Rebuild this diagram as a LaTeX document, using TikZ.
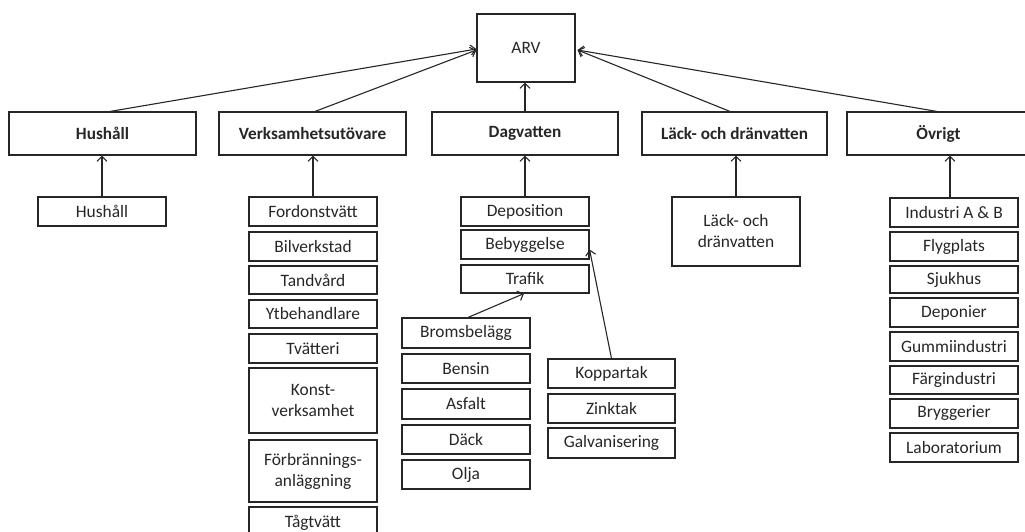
\documentclass[tikz,border=0pt]{standalone}
\usepackage{fontspec}
\setmainfont{Carlito}
\usetikzlibrary{arrows.meta}
\begin{document}
\begin{tikzpicture}[x=1pt,y=-1pt,
  box/.style={draw=black!85, line width=1.1pt, inner sep=0pt, align=center,
    font=\fontsize{17.4}{21}\selectfont, text=black!85},
  head/.style={box, minimum height=43, font=\fontsize{17.2}{21}\selectfont\bfseries},
  leaf/.style={box, minimum width=128},
  conn/.style={draw=black!85, line width=1.1pt, -{Straight Barb[length=5pt,width=10pt,line width=1.1pt]}}
]
\useasboundingbox (0,0) rectangle (1025,531);
% top
\node[box, minimum width=98, minimum height=68] (arv) at (526,48) {ARV};
% level 1
\node[head, minimum width=187] (h) at (102.5,133.5) {Hushåll};
\node[head, minimum width=187] (v) at (312.5,133.5) {Verksamhetsutövare};
\node[head, minimum width=186] (d) at (525,133.5) {Dagvatten};
\node[head, minimum width=185] (l) at (734.5,133.5) {Läck- och dränvatten};
\node[head, minimum width=183] (o) at (938.5,133.5) {Övrigt};
% Hushåll
\node[leaf, minimum height=29] (h1) at (102,211.5) {Hushåll};
% Verksamhetsutövare
\node[leaf, minimum height=29] (v1) at (313,211.5) {Fordonstvätt};
\node[leaf, minimum height=29] (v2) at (313,246.5) {Bilverkstad};
\node[leaf, minimum height=28] (v3) at (313,280) {Tandvård};
\node[leaf, minimum height=28] (v4) at (313,314) {Ytbehandlare};
\node[leaf, minimum height=29] (v5) at (313,348.5) {Tvätteri};
\node[leaf, minimum height=65] (v6) at (313,400.5) {Konst-\\verksamhet};
\node[leaf, minimum height=62] (v7) at (313,471) {Förbrännings-\\anläggning};
\node[leaf, minimum height=31] (v8) at (313,522.5) {Tågtvätt};
% Dagvatten
\node[leaf, minimum height=29] (d1) at (525,211.5) {Deposition};
\node[leaf, minimum height=29] (d2) at (525,244.5) {Bebyggelse};
\node[leaf, minimum height=28] (d3) at (525,279) {Trafik};
\node[leaf, minimum height=30] (t1) at (466,333) {Bromsbelägg};
\node[leaf, minimum height=29] (t2) at (466,368.5) {Bensin};
\node[leaf, minimum height=30] (t3) at (466,404) {Asfalt};
\node[leaf, minimum height=29] (t4) at (466,439.5) {Däck};
\node[leaf, minimum height=29] (t5) at (466,474.5) {Olja};
\node[leaf, minimum width=127, minimum height=29] (b1) at (611.5,373.5) {Koppartak};
\node[leaf, minimum width=127, minimum height=29] (b2) at (611.5,408.5) {Zinktak};
\node[leaf, minimum width=127, minimum height=30] (b3) at (611.5,443) {Galvanisering};
% Läck
\node[leaf, minimum height=69] (l1) at (736,231.5) {Läck- och\\dränvatten};
% Övrigt
\node[leaf, minimum height=29] (o1) at (954,212.5) {Industri A \& B};
\node[leaf, minimum height=29] (o2) at (954,246.5) {Flygplats};
\node[leaf, minimum height=27] (o3) at (954,279.5) {Sjukhus};
\node[leaf, minimum height=29] (o4) at (954,312.5) {Deponier};
\node[leaf, minimum height=29] (o5) at (954,346.5) {Gummiindustri};
\node[leaf, minimum height=28] (o6) at (954,380) {Färgindustri};
\node[leaf, minimum height=29] (o7) at (954,413.5) {Bryggerier};
\node[leaf, minimum height=29] (o8) at (954,447.5) {Laboratorium};
% connectors to ARV
\draw[conn] ([xshift=7.5pt]h.north) -- ([yshift=-1pt]arv.west);
\draw[conn] ([xshift=2.5pt]v.north) -- ([yshift=-2pt]arv.west);
\draw[conn] (d.north) -- (d.north |- arv.south);
\draw[conn] ([xshift=-4.5pt]l.north) -- ([xshift=2pt,yshift=-2pt]arv.east);
\draw[conn] ([xshift=-1.5pt]o.north) -- ([xshift=2pt,yshift=-2pt]arv.east);
% connectors to level 1
\draw[conn] (h1.north) -- (h1.north |- h.south);
\draw[conn] (v1.north) -- (v1.north |- v.south);
\draw[conn] (d1.north) -- (d1.north |- d.south);
\draw[conn] (l1.north) -- (l1.north |- l.south);
\draw[conn] ([xshift=-4pt]o1.north) -- ([xshift=-4pt]o1.north |- o.south);
% inner connectors
\draw[conn] ([xshift=2pt]t1.north) -- ([xshift=-1pt]d3.south);
\draw[conn] (b1.north) -- ([yshift=-5pt]d2.east);
\end{tikzpicture}
\end{document}
